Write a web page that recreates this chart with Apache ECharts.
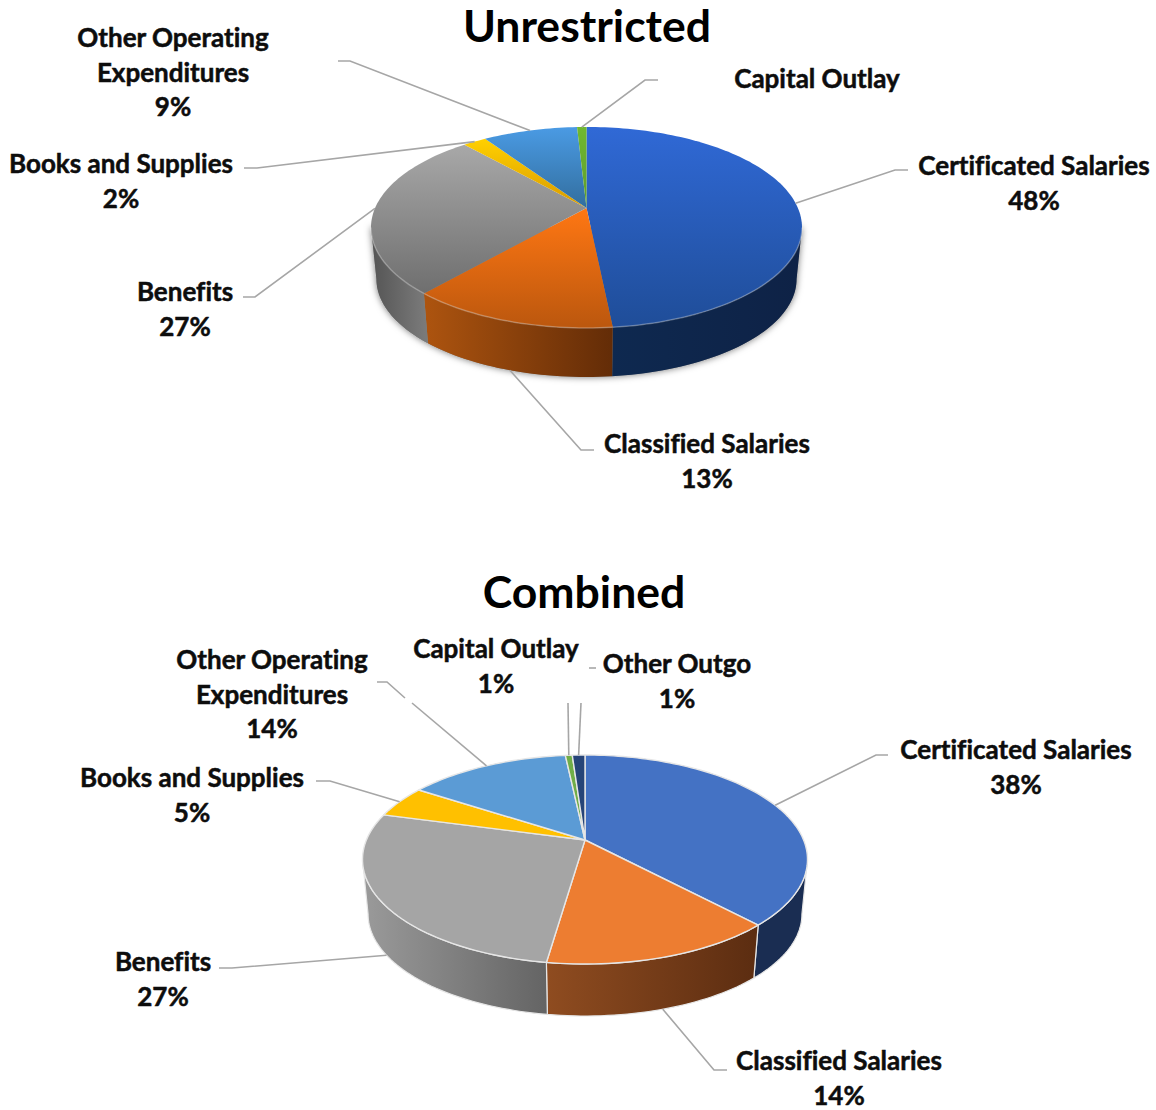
<!DOCTYPE html>
<html>
<head>
<meta charset="utf-8">
<style>html,body{margin:0;padding:0;background:#fff}#c{width:1156px;height:1110px}#c text{font-variant-ligatures:none;font-feature-settings:"liga" 0,"clig" 0}</style>
<script src="https://cdn.jsdelivr.net/npm/echarts@6/dist/echarts.min.js"></script>
</head>
<body>
<div id="c"></div>
<script>
// ---- data ----
const unrestrictedNames = ['Certificated Salaries','Classified Salaries','Benefits','Books and Supplies','Other Operating\nExpenditures','Capital Outlay'];
const unrestrictedValues = [48.4, 13, 27.1, 2.1, 8.55, 0.85];
const unrestrictedShowPct = [true, true, true, true, true, false];
const combinedNames = ['Certificated Salaries','Classified Salaries','Benefits','Books and Supplies','Other Operating\nExpenditures','Capital Outlay','Other Outgo'];
const combinedValues = [38, 14.3, 26.9, 5, 14.1, 0.6, 1.1];
const combinedShowPct = [true, true, true, true, true, true, true];

// ---- styles & layout (no values here) ----
const FONT = 'Lato, "Open Sans", sans-serif';
const LINE = '#a6a6a6';
const WALL_SHRINK = 0.975;
const LABEL_STEP = 34.5;
function V(c0, y0, c1, y1){ return new echarts.graphic.LinearGradient(0, y0, 0, y1, [{offset:0,color:c0},{offset:1,color:c1}], true); }
function H(c0, x0, c1, x1){ return new echarts.graphic.LinearGradient(x0, 0, x1, 0, [{offset:0,color:c0},{offset:1,color:c1}], true); }

const unrestrictedLayout = {
  geo: {cx:586.5, cy:208, top:127, bottom:328, halfW:215.5, depth:49},
  faces: [V('#3069d6',127,'#1f4d98',328), V('#ff7713',208,'#bb570e',328), V('#a8a8a8',145,'#6e6e6e',295), V('#ffcf00',140,'#d89a00',208), V('#4a9ae3',128,'#326e9e',208), V('#70b82f',127,'#5f9e2a',208)],
  walls: [H('#0e2950',610,'#0e2246',800), H('#ad540f',425,'#632c07',613), H('#555555',372,'#7a7a7a',425), '#333','#333','#333'],
  rim: 'rgba(255,255,255,0.28)', edge: null, shadow: true,
  leaders: [
    {tail:[[908,170],[895,170]]}, {tail:[[594,450],[581,450]]}, {tail:[[243,297],[255,297]]},
    {tail:[[244,168],[257,168]]}, {tail:[[338,61],[350,61]]}, {tail:[[658,80],[645,80]]}
  ],
  labels: [[1034,165],[707,443],[185,291],[121,163],[173,37],[817,78]]
};
const combinedLayout = {
  geo: {cx:585, cy:840, top:755, bottom:964, halfW:222.5, depth:52},
  faces: ['#4472c4','#ed7d31','#a5a5a5','#ffc000','#5b9bd5','#70ad47','#264478'],
  walls: ['#1a2d52', H('#8f4c20',547,'#5c2d11',756), H('#9a9a9a',364,'#646464',547), '#333','#333','#333','#333'],
  rim: null, edge: '#e6e6e6', shadow: false,
  leaders: [
    {tail:[[888,755],[876,755]]}, {tail:[[727,1070],[714,1070]]}, {tail:[[219,968],[232,968]]},
    {tail:[[316,781],[330,781]]}, {tail:[[412,703]], stub:[[377,682],[387,682],[405,698]]},
    {tail:[[568,703]]}, {tail:[[581,703]], stub:[[589,668],[596,668]]}
  ],
  labels: [[1016,749],[839,1060],[163,961],[192,777],[272,659],[496,648],[677,663]]
};

// perspective projection of a flat disc: angle (deg, clockwise from back) -> screen
function projector(g){
  const dt = g.cy - g.top, db = g.bottom - g.cy;
  const p = (db - dt) / (db + dt), b = dt * (1 + p), a = g.halfW * Math.sqrt(1 - p * p);
  const fn = function(deg, drop){
    const t = deg * Math.PI / 180, d = 1 + p * Math.cos(t);
    const x = a * Math.sin(t) / d, y = -b * Math.cos(t) / d;
    if (!drop) return [g.cx + x, g.cy + y];
    return [g.cx + x * WALL_SHRINK, g.cy + y * WALL_SHRINK + drop + (1 - WALL_SHRINK) * db];
  };
  fn.visFrom = 90 + Math.asin(p) * 180 / Math.PI;
  fn.visTo = 360 - fn.visFrom;
  return fn;
}
function arc(P, a0, a1, drop){
  const n = Math.max(2, Math.ceil(Math.abs(a1 - a0) / 1.5)), out = [];
  for (let i = 0; i <= n; i++) out.push(P(a0 + (a1 - a0) * i / n, drop));
  return out;
}

function pieSeries(names, values, showPct, L){
  const total = values.reduce((s, v) => s + v, 0);
  const P = projector(L.geo), depth = L.geo.depth;
  const cum = [0];
  values.forEach(v => cum.push(cum[cum.length - 1] + v));
  return {
    type: 'custom', coordinateSystem: 'none', silent: true, animation: false,
    data: values.map((v, i) => ({name: names[i], value: [v]})),
    renderItem: function(params){
      const i = params.dataIndex;
      const a0 = cum[i] / total * 360, a1 = cum[i + 1] / total * 360, mid = (a0 + a1) / 2;
      const kids = [];
      if (L.shadow && i === 0) {
        const sil = arc(P, P.visFrom, P.visTo, depth);
        kids.push({type:'polygon', shape:{points: sil.concat([P(P.visTo), P(P.visFrom)])},
          style:{fill:'#888', shadowBlur:7, shadowColor:'rgba(0,0,0,0.55)'}});
      }
      // side wall
      const w0 = Math.max(a0, P.visFrom), w1 = Math.min(a1, P.visTo);
      if (w1 > w0) {
        const pts = arc(P, w0, w1, 0).concat(arc(P, w1, w0, depth));
        kids.push({type:'polygon', shape:{points: pts},
          style:{fill:L.walls[i], stroke:L.edge || 'none', lineWidth:L.edge ? 1.2 : 0}});
      }
      // top face
      const face = [[L.geo.cx, L.geo.cy]];
      kids.push({type:'polygon', shape:{points: face.concat(arc(P, a0, a1, 0))},
        style:{fill:L.faces[i], stroke:L.edge || 'none', lineWidth:L.edge ? 1.4 : 0, lineJoin:'round'}});
      if (L.rim && w1 > w0) {
        kids.push({type:'polyline', shape:{points: arc(P, w0, w1, 0)}, style:{fill:'none', stroke:L.rim, lineWidth:1.5}});
      }
      // leader line, starting where the slice's mid-angle meets the pie outline
      const onWall = mid > P.visFrom && mid < P.visTo && Math.cos(mid * Math.PI / 180) < -0.3;
      const lead = L.leaders[i];
      kids.push({type:'polyline', shape:{points: lead.tail.concat([P(mid, onWall ? depth : 0)])},
        style:{fill:'none', stroke:LINE, lineWidth:1.6}, z2:5});
      if (lead.stub) kids.push({type:'polyline', shape:{points: lead.stub}, style:{fill:'none', stroke:LINE, lineWidth:1.6}, z2:5});
      // label, one text per line so that each box stays tight around its glyphs
      const lab = L.labels[i];
      const lines = names[i].split('\n');
      if (showPct[i]) lines.push(Math.round(values[i] / total * 100) + '%');
      lines.forEach(function(line, k){
        kids.push({type:'text', z2:6, style:{
          text: line, x: lab[0], y: lab[1] + k * LABEL_STEP, align:'center', verticalAlign:'middle',
          lineHeight: 24, fontSize: 26, fontWeight:'bold', fontFamily: FONT, fill:'#0d0d0d',
          stroke:'#0d0d0d', lineWidth:0.5}});
      });
      return {type:'group', children: kids};
    }
  };
}

const chart = echarts.init(document.getElementById('c'), null, {renderer:'svg'});
chart.setOption({
  animation: false,
  backgroundColor: '#ffffff',
  title: [
    {text:'Unrestricted', left:587, top:4, padding:0, textAlign:'center', textStyle:{fontSize:44.5, lineHeight:40, fontWeight:'bold', fontFamily:FONT, color:'#000'}},
    {text:'Combined', left:584, top:570, padding:0, textAlign:'center', textStyle:{fontSize:44.5, lineHeight:40, fontWeight:'bold', fontFamily:FONT, color:'#000'}}
  ],
  series: [
    pieSeries(unrestrictedNames, unrestrictedValues, unrestrictedShowPct, unrestrictedLayout),
    pieSeries(combinedNames, combinedValues, combinedShowPct, combinedLayout)
  ]
});
</script>
</body>
</html>
